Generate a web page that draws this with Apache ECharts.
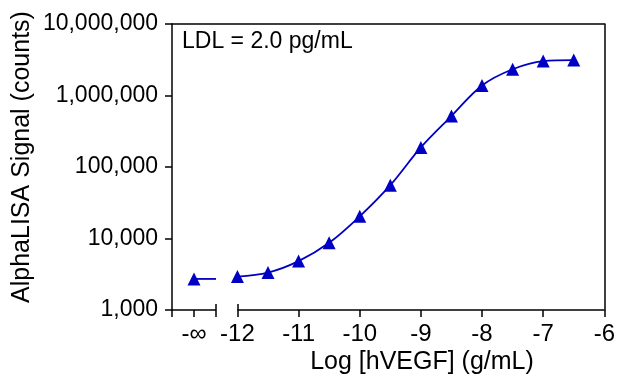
<!DOCTYPE html>
<html>
<head>
<meta charset="utf-8">
<script src="https://cdn.jsdelivr.net/npm/echarts@6/dist/echarts.min.js"></script>
<style>
  html, body { margin: 0; padding: 0; background: #fff; }
  #chart { width: 618px; height: 376px; }
</style>
</head>
<body>
<div id="chart"></div>
<script>
// log10 [hVEGF] (g/mL) and AlphaLISA counts
const logConc = [-12, -11.5, -11, -10.5, -10, -9.5, -9, -8.5, -8, -7.5, -7, -6.5];
const signal = [2930, 3340, 4830, 8710, 20400, 55700, 188000, 516000, 1380000, 2330000, 3030000, 3130000];

// zero-dose point drawn at the "-∞" position left of the axis break
const zeroPos = -12.71;
const zeroSignal = 2720;

const xMin = -13.07;
const xMax = -6;
const breakStart = -12.35;
const breakEnd = -12;
const xLabelValues = [zeroPos, -12, -11, -10, -9, -8, -7, -6];
const yMin = 1000;
const yMax = 10000000;

const BLUE = '#0000c4';
const FONT = 'Liberation Sans, Arial, sans-serif';

const points = logConc.map((x, i) => [x, signal[i]]);

const chart = echarts.init(document.getElementById('chart'));

const option = {
  backgroundColor: '#fff',
  animation: false,
  grid: { left: 172, right: 11, top: 24, bottom: 66, containLabel: false },
  xAxis: [
    {
      type: 'value',
      min: xMin,
      max: xMax,
      position: 'bottom',
      axisLine: { show: false },
      axisTick: {
        show: true,
        length: 7,
        lineStyle: { color: '#000', width: 1.5 },
        customValues: [xMin, zeroPos, breakStart].concat(xLabelValues.slice(1))
      },
      axisLabel: {
        customValues: xLabelValues,
        color: '#000',
        fontFamily: FONT,
        fontSize: 24,
        margin: 12,
        formatter: v => (v < -12.5 ? '-∞' : String(Math.round(v)))
      },
      splitLine: { show: false }
    },
    {
      // break marks pointing into the plot
      type: 'value',
      min: xMin,
      max: xMax,
      position: 'bottom',
      axisLine: { show: false },
      axisTick: {
        show: true,
        inside: true,
        length: 6,
        lineStyle: { color: '#000', width: 1.5 },
        customValues: [breakStart, breakEnd]
      },
      axisLabel: { show: false },
      splitLine: { show: false }
    },
    {
      // top frame
      type: 'value',
      min: xMin,
      max: xMax,
      position: 'top',
      axisLine: { show: true, lineStyle: { color: '#000', width: 1.5 } },
      axisTick: { show: false },
      axisLabel: { show: false },
      splitLine: { show: false }
    }
  ],
  yAxis: [
    {
      type: 'log',
      logBase: 10,
      min: yMin,
      max: yMax,
      axisLine: { show: true, lineStyle: { color: '#000', width: 1.5 } },
      axisTick: { show: true, length: 7, lineStyle: { color: '#000', width: 1.5 } },
      minorTick: { show: false },
      axisLabel: {
        color: '#000',
        fontFamily: FONT,
        fontSize: 23,
        margin: 14,
        formatter: v => Number(v).toLocaleString('en-US')
      },
      splitLine: { show: false }
    },
    {
      // right frame
      type: 'value',
      min: 0,
      max: 1,
      position: 'right',
      axisLine: { show: true, lineStyle: { color: '#000', width: 1.5 } },
      axisTick: { show: false },
      axisLabel: { show: false },
      splitLine: { show: false }
    }
  ],
  graphic: [
    {
      type: 'text',
      left: 182,
      top: 30,
      style: { text: 'LDL = 2.0 pg/mL', fill: '#000', font: '23px ' + FONT }
    },
    {
      // x title sits centred under the -12 … -6 part of the axis
      type: 'text',
      x: 422,
      y: 362,
      style: {
        text: 'Log [hVEGF] (g/mL)', fill: '#000', font: '25px ' + FONT,
        align: 'center', verticalAlign: 'middle'
      }
    },
    {
      type: 'text',
      x: 22,
      y: 157,
      rotation: Math.PI / 2,
      style: {
        text: 'AlphaLISA Signal (counts)', fill: '#000', font: '25px ' + FONT,
        align: 'center', verticalAlign: 'middle'
      }
    }
  ],
  series: [
    {
      name: 'fit',
      type: 'line',
      data: points,
      smooth: 0.35,
      showSymbol: false,
      symbol: 'none',
      lineStyle: { color: BLUE, width: 1.8 },
      z: 2
    },
    {
      name: 'zero',
      type: 'line',
      data: [[zeroPos, zeroSignal], [breakStart, zeroSignal]],
      showSymbol: false,
      symbol: 'none',
      lineStyle: { color: BLUE, width: 1.8 },
      clip: false,
      z: 2,
      markLine: {
        silent: true,
        symbol: 'none',
        label: { show: false },
        lineStyle: { color: '#000', width: 1.5, type: 'solid' },
        data: [
          [{ coord: [xMin, yMin] }, { coord: [breakStart, yMin] }],
          [{ coord: [breakEnd, yMin] }, { coord: [xMax, yMin] }]
        ]
      }
    },
    {
      name: 'points',
      type: 'scatter',
      data: points.concat([[zeroPos, zeroSignal]]),
      symbol: 'triangle',
      symbolSize: [13, 13],
      itemStyle: { color: BLUE, opacity: 1 },
      z: 3
    }
  ]
};

chart.setOption(option);
</script>
</body>
</html>
